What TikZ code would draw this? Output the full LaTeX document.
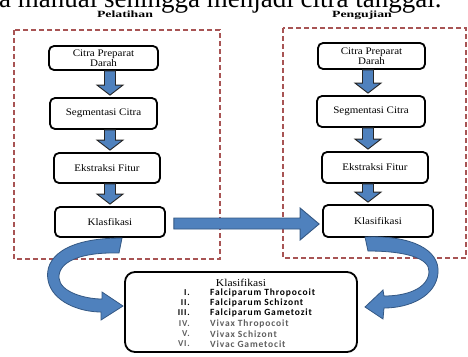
\documentclass[tikz,border=0pt]{standalone}
\usepackage{fontspec}
\usepackage{graphicx}
\setmainfont{Liberation Serif}[FakeStretch=1.1]
\newfontfamily\plainserif{Liberation Serif}
\newfontfamily\headserif{Liberation Serif}[FakeStretch=1.45]
\newfontfamily\listfont{Carlito}[LetterSpace=9]
\usetikzlibrary{calc}
\definecolor{arrblue}{RGB}{79,129,189}
\definecolor{arredge}{RGB}{52,88,132}
\definecolor{dashred}{RGB}{168,84,84}
\definecolor{listgray}{RGB}{95,95,95}
\tikzset{
  procbox/.style={draw=black, line width=1.8pt, rounded corners=5pt, fill=white, align=center, inner sep=1pt, font=\fontsize{10}{9}\selectfont},
  phase/.style={draw=dashred, line width=1.2pt, dash pattern=on 5pt off 3pt},
  blockarr/.style={fill=arrblue, draw=black!85, line width=0.9pt, line join=miter},
  curvearr/.style={fill=arrblue, draw=arredge, line width=0.8pt},
  headlab/.style={font=\headserif\bfseries\fontsize{9.5}{11}\selectfont, inner sep=0pt, anchor=base},
  numlab/.style={anchor=east, inner sep=0pt, font=\listfont\bfseries\fontsize{9}{10}\selectfont},
  itemlab/.style={anchor=west, inner sep=0pt, font=\listfont\bfseries\fontsize{9.5}{10}\selectfont},
}
\newcommand{\dnarrow}[3]{%
  \path[blockarr] let \p1=(#2.south), \p2=(#3.north) in
    (#1pt-5.5pt,\y1) -- (#1pt+5.5pt,\y1) -- (#1pt+5.5pt,\y2+12pt) -- (#1pt+13pt,\y2+12pt)
    -- (#1pt,\y2+2pt) -- (#1pt-13pt,\y2+12pt) -- (#1pt-5.5pt,\y2+12pt) -- cycle;}
\begin{document}
\begin{tikzpicture}[x=1pt,y=-1pt]
\clip (0,0) rectangle (468,356);
\fill[white] (0,0) rectangle (468,356);

% cut-off text line at the top
\node[anchor=base west, inner sep=0pt, font=\plainserif\fontsize{27}{29}\selectfont] (top) at (-1,7.5) {a manual sehingga menjadi citra tanggal.};

% headings
\node[headlab] (hp) at (125,17) {Pelatihan};
\node[headlab] (hu) at (362,17) {Pengujian};

% dashed phase frames
\draw[phase] (14,30) rectangle (220,259);
\draw[phase] (283,28) rectangle (466,258);

% left column
\node[procbox, minimum width=109pt, minimum height=24pt] (B1) at (103.5,58) {Citra Preparat\\Darah};
\node[procbox, minimum width=107pt, minimum height=31pt] (B2) at (103.5,113.5) {Segmentasi Citra};
\node[procbox, minimum width=106pt, minimum height=30pt] (B3) at (107,168) {Ekstraksi Fitur};
\node[procbox, minimum width=110pt, minimum height=30pt] (B4) at (110,222) {Klasfikasi};

% right column
\node[procbox, minimum width=107pt, minimum height=26pt] (R1) at (371.5,56) {Citra Preparat\\Darah};
\node[procbox, minimum width=108pt, minimum height=31pt] (R2) at (371,111.5) {Segmentasi Citra};
\node[procbox, minimum width=106pt, minimum height=31pt] (R3) at (375,167.5) {Ekstraksi Fitur};
\node[procbox, minimum width=110pt, minimum height=32pt] (R4) at (378,221) {Klasifikasi};

% down arrows
\dnarrow{110}{B1}{B2}
\dnarrow{110}{B2}{B3}
\dnarrow{110}{B3}{B4}
\dnarrow{368}{R1}{R2}
\dnarrow{368}{R2}{R3}
\dnarrow{368}{R3}{R4}

% horizontal arrow
\path[blockarr, draw=arredge] let \p1=(B4.east), \p2=(R4.west) in
  (\x1+8pt,\y1+4pt) -- (\x2-22pt,\y1+4pt) -- (\x2-22pt,\y1+14pt) -- (\x2-3pt,\y1-2pt)
  -- (\x2-22pt,\y1-18pt) -- (\x2-22pt,\y1-7pt) -- (\x1+8pt,\y1-7pt) -- cycle;

% result box
\node[draw=black, line width=1.8pt, rounded corners=10pt, fill=white, minimum width=232pt, minimum height=80pt] (C) at (241,312) {};
\node[inner sep=0pt, font=\fontsize{10.5}{11}\selectfont] (ct) at (241,283) {Klasifikasi};
\node[numlab] (n1) at (190,293) {I.};
\node[numlab] (n2) at (190,303) {II.};
\node[numlab] (n3) at (190,313) {III.};
\node[numlab, text=listgray] (n4) at (190,324) {IV.};
\node[numlab, text=listgray] (n5) at (190,334) {V.};
\node[numlab, text=listgray] (n6) at (190,344) {VI.};
\node[itemlab] (i1) at (210,293) {Falciparum Thropocoit};
\node[itemlab] (i2) at (210,303) {Falciparum Schizont};
\node[itemlab] (i3) at (210,313) {Falciparum Gametozit};
\node[itemlab, text=listgray] (i4) at (210,324) {Vivax Thropocoit};
\node[itemlab, text=listgray] (i5) at (210,334) {Vivax Schizont};
\node[itemlab, text=listgray] (i6) at (210,344) {Vivac Gametocit};

% curved arrows
\path[curvearr] (122,238) .. controls (65,238) and (44,258) .. (48,280)
  .. controls (52,302) and (80,312) .. (101,312) -- (101,320) -- (123,306) -- (102,292) -- (102,299)
  .. controls (85,299) and (60,292) .. (59,278) .. controls (58,262) and (80,252) .. (119,253) -- cycle;
\path[curvearr] (365,237) .. controls (412,235) and (440,250) .. (438,273)
  .. controls (436,296) and (410,308) .. (384,308) -- (383,319) -- (365,307) -- (383,290) -- (384,296)
  .. controls (408,296) and (428,288) .. (429,272) .. controls (430,258) and (405,251) .. (368,251) -- cycle;
\end{tikzpicture}
\end{document}
